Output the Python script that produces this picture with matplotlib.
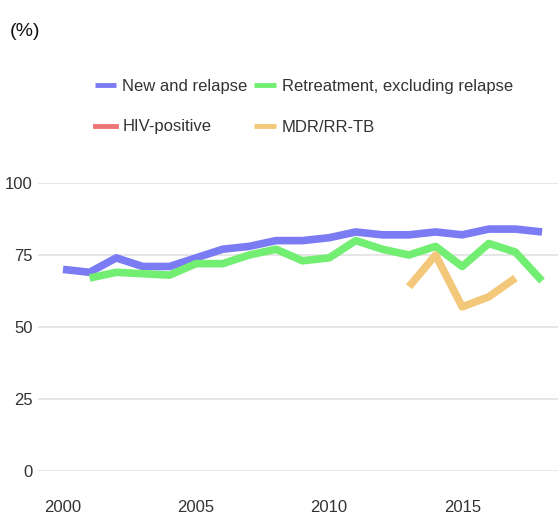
import matplotlib
matplotlib.use("Agg")
import matplotlib.pyplot as plt

# Datos
years = list(range(2000, 2019))
new_relapse = [70, 69, 74, 71, 71, 74, 77, 78, 80, 80, 81, 83, 82, 82, 83, 82, 84, 84, 83]
retreat_years = list(range(2001, 2019))
retreatment = [67, 69, 68.5, 68, 72, 72, 75, 77, 73, 74, 80, 77, 75, 78, 71, 79, 76, 66]
hiv_years = []
hiv_positive = []
mdr_years = [2013, 2014, 2015, 2016, 2017]
mdr_rr = [64, 75, 57, 60.5, 67]

series_labels = ["New and relapse", "Retreatment, excluding relapse", "HIV-positive", "MDR/RR-TB"]
colors = ["#7b7bf3", "#72ee72", "#ee7575", "#f3c87a"]
yticks = [0, 25, 50, 75, 100]
xticks = [2000, 2005, 2010, 2015]

plt.rcParams["font.family"] = ["Liberation Sans", "DejaVu Sans"]

fig = plt.figure(figsize=(5.58, 5.16), dpi=100)
ax = fig.add_axes([38 / 558, 1 - 471 / 516, 520 / 558, 288 / 516])

lw = 5.5
ax.plot(years, new_relapse, color=colors[0], lw=lw, label=series_labels[0], clip_on=False, solid_capstyle="butt")
ax.plot(retreat_years, retreatment, color=colors[1], lw=lw, label=series_labels[1], clip_on=False, solid_capstyle="butt")
ax.plot(hiv_years, hiv_positive, color=colors[2], lw=lw, label=series_labels[2])
ax.plot(mdr_years, mdr_rr, color=colors[3], lw=lw, label=series_labels[3], clip_on=False, solid_capstyle="butt")

ax.set_xlim(1999.06, 2018.6)
ax.set_ylim(0, 100)
ax.set_yticks(yticks)
ax.set_xticks(xticks)
ax.grid(axis="y", color="#e2e2e2", lw=1.2)
ax.set_axisbelow(True)
for s in ax.spines.values():
    s.set_visible(False)
ax.tick_params(length=0, labelsize=12, colors="#333333")
ax.tick_params(axis="y", pad=4)
ax.tick_params(axis="x", pad=21)

fig.text(10 / 558, 1 - 31 / 516, "(%)", fontsize=14, va="center", ha="left", color="#111111")

# Leyenda con orden por filas
handles, labels = ax.get_legend_handles_labels()
order = [0, 2, 1, 3]
leg = fig.legend([handles[i] for i in order], [labels[i] for i in order],
                 ncol=2, loc="upper left", bbox_to_anchor=(88 / 558, 1 - 72 / 516),
                 frameon=False, fontsize=12, handlelength=1.3, handletextpad=0.35,
                 columnspacing=0.4, labelspacing=1.55, labelcolor="#333333",
                 borderaxespad=0)
for line in leg.get_lines():
    line.set_linewidth(3.5)

fig.savefig("out.png", dpi=100)
